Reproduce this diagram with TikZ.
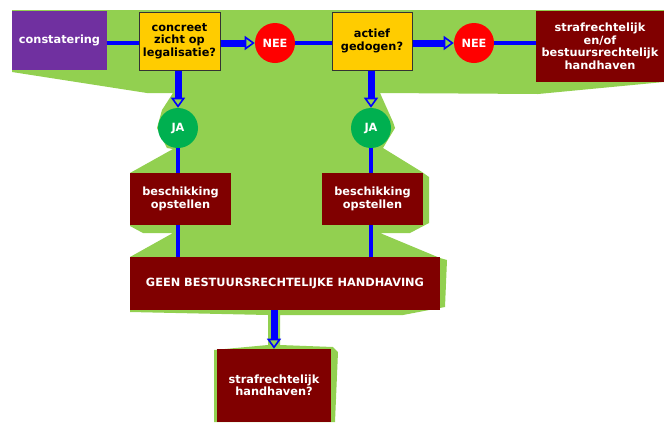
\documentclass[tikz,border=0pt]{standalone}
\usepackage{fontspec}
\newfontfamily\vf{DejaVu Sans}
\usetikzlibrary{arrows.meta}
\definecolor{bggreen}{RGB}{146,208,80}
\definecolor{purp}{RGB}{112,48,160}
\definecolor{yel}{RGB}{255,204,0}
\definecolor{dred}{RGB}{128,0,0}
\definecolor{jagreen}{RGB}{0,176,80}
\begin{document}
\begin{tikzpicture}[x=0.75pt,y=-0.75pt,
  lbl/.style={font=\vf\bfseries\fontsize{8.5}{9.4}\selectfont, align=center, inner sep=0pt},
  pbox/.style={lbl, fill=purp, text=white, minimum width=71.25pt, minimum height=44.25pt},
  ybox/.style={lbl, fill=yel, draw=black!80, line width=0.75pt, text=black, minimum height=43.5pt},
  rbox/.style={lbl, fill=dred, text=white},
  circ/.style={lbl, circle, minimum size=30pt, text=white},
  wire/.style={draw=blue, line width=3pt},
  fatwire/.style={draw=blue, line width=5.25pt, -{Triangle[open, length=7.5pt, width=10.5pt, line width=1.2pt]}}
]
\useasboundingbox (0,0) rectangle (664,422);
\fill[white] (0,0) rectangle (664,422);
% green background shape
\fill[bggreen] (12,10) -- (664,10) -- (664,82) -- (538,94) -- (380,93) -- (393,122) -- (395,128)
  -- (383,148) -- (422,172) -- (429,177) -- (429,223) -- (410,233) -- (380,233) -- (440,258)
  -- (447,260) -- (445,307) -- (403,315) -- (280,315) -- (280,345) -- (333,347) -- (338,352)
  -- (335,422) -- (214,422) -- (214,350) -- (268,345) -- (268,315) -- (130,312) -- (130,257)
  -- (173,233) -- (143,233) -- (130,226) -- (130,173) -- (173,149) -- (167,148) -- (157,128)
  -- (162,110) -- (173,93) -- (147,93) -- (12,72) -- cycle;
% nodes
\node[pbox] (cons) at (59.5,40.5) {constatering};
\node[ybox, minimum width=60.75pt] (q1) at (179.5,41) {concreet\\zicht op\\legalisatie?};
\node[circ, fill=red] (nee1) at (275,43) {NEE};
\node[ybox, minimum width=60pt] (q2) at (372,41) {actief\\gedogen?};
\node[circ, fill=red] (nee2) at (474,43) {NEE};
\node[rbox, minimum width=96pt, minimum height=53.25pt] (sh) at (600,46.5) {strafrechtelijk\\en/of\\bestuursrechtelijk\\handhaven};
\node[circ, fill=jagreen] (ja1) at (178,128) {JA};
\node[circ, fill=jagreen] (ja2) at (371,128) {JA};
\node[rbox, minimum width=75.75pt, minimum height=39pt] (b1) at (180.5,199) {beschikking\\opstellen};
\node[rbox, minimum width=75.75pt, minimum height=39pt] (b2) at (372.5,199) {beschikking\\opstellen};
\node[rbox, minimum width=232.5pt, minimum height=39.75pt] (geen) at (285,283.5) {GEEN BESTUURSRECHTELIJKE HANDHAVING};
\node[rbox, minimum width=85.5pt, minimum height=54.75pt] (fin) at (274,385.5) {strafrechtelijk\\handhaven?};
% connectors
\draw[wire] (cons.east |- nee1) -- (q1.west |- nee1);
\draw[fatwire] (q1.east |- nee1) -- (nee1.west);
\draw[wire] (nee1.east) -- (q2.west |- nee1);
\draw[fatwire] (q2.east |- nee2) -- (nee2.west);
\draw[wire] (nee2.east) -- (sh.west |- nee2);
\draw[fatwire] (q1.south -| ja1) -- (ja1.north);
\draw[fatwire] (q2.south -| ja2) -- (ja2.north);
\draw[wire] (ja1.south) -- (b1.north -| ja1);
\draw[wire] (ja2.south) -- (b2.north -| ja2);
\draw[wire] (b1.south -| ja1) -- (geen.north -| ja1);
\draw[wire] (b2.south -| ja2) -- (geen.north -| ja2);
\draw[fatwire] (geen.south -| fin) -- (fin.north);
\end{tikzpicture}
\end{document}
